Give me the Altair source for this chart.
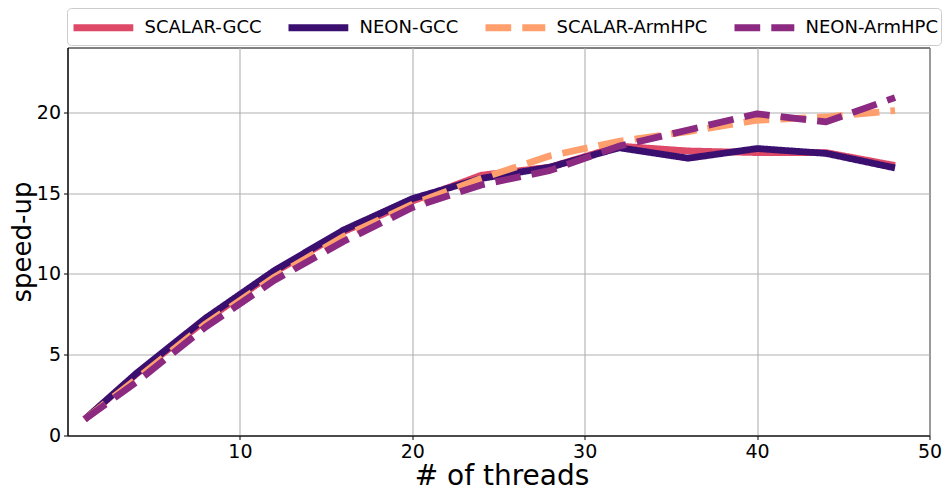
import altair as alt
import pandas as pd

threads = [1, 4, 8, 12, 16, 20, 24, 28, 32, 36, 40, 44, 48]
series_names = ["SCALAR-GCC", "NEON-GCC", "SCALAR-ArmHPC", "NEON-ArmHPC"]
scalar_gcc = [1.0, 3.8, 7.1, 10.1, 12.6, 14.5, 16.1, 16.6, 17.9, 17.6, 17.5, 17.5, 16.7]
neon_gcc = [1.0, 3.85, 7.25, 10.2, 12.7, 14.65, 15.9, 16.6, 17.8, 17.15, 17.75, 17.45, 16.55]
scalar_armhpc = [1.0, 3.5, 6.9, 9.8, 12.3, 14.3, 15.9, 17.3, 18.2, 18.8, 19.5, 19.7, 20.1]
neon_armhpc = [1.0, 3.3, 6.7, 9.6, 12.0, 14.1, 15.5, 16.4, 17.9, 18.9, 19.9, 19.4, 20.9]
x_ticks = [10, 20, 30, 40, 50]
y_ticks = [0, 5, 10, 15, 20]

colors = ["#de4968", "#3b0f70", "#fe9f6d", "#8c2981"]
dashes = [[1, 0], [1, 0], [25.7, 11.1], [25.7, 11.1]]

rows = []
for name, vals in zip(series_names, [scalar_gcc, neon_gcc, scalar_armhpc, neon_armhpc]):
    for t, v in zip(threads, vals):
        rows.append({"threads": t, "speedup": v, "series": name})
df = pd.DataFrame(rows)

FONT = "DejaVu Sans"
W, H = 862, 388

base = alt.Chart(df).mark_line(strokeWidth=6.8, strokeJoin="round").encode(
    x=alt.X("threads:Q",
            scale=alt.Scale(domain=[0, 50], nice=False, zero=False),
            axis=alt.Axis(values=x_ticks, title="# of threads", titleFontSize=28,
                          titleFontWeight="normal", titleBaseline="alphabetic",
                          titleX=434, titleY=49, labelFontSize=19, tickSize=4,
                          labelPadding=3, labelFlush=False)),
    y=alt.Y("speedup:Q",
            scale=alt.Scale(domain=[0, 24], nice=False),
            axis=alt.Axis(values=y_ticks, title="speed-up", titleFontSize=26,
                          titleFontWeight="normal", titleBaseline="alphabetic",
                          titleX=-37, titleY=194, labelFontSize=19, tickSize=4,
                          labelPadding=3)),
    color=alt.Color("series:N",
                    scale=alt.Scale(domain=series_names, range=colors),
                    legend=alt.Legend(title=None, orient="none", direction="horizontal",
                                      columns=4, legendX=-0.5, legendY=-39.5,
                                      symbolType="M-1,0H3.6", symbolSize=676,
                                      symbolStrokeWidth=7, labelFontSize=18,
                                      labelOffset=41.5, columnPadding=12, padding=3,
                                      strokeColor="#cccccc", fillColor="white",
                                      cornerRadius=4, labelFont=FONT)),
    strokeDash=alt.StrokeDash("series:N",
                              scale=alt.Scale(domain=series_names, range=dashes),
                              legend=alt.Legend(title=None, orient="none")),
)

layers = [base.transform_filter(alt.datum.series == s) for s in series_names]

chart = alt.layer(*layers).properties(
    width=W, height=H,
    autosize=alt.AutoSizeParams(type="none"),
    padding={"left": 59.5, "top": 39.5, "right": 12.5, "bottom": 52},
).configure_view(
    stroke="black", strokeWidth=1
).configure_axis(
    grid=True, gridColor="#b0b0b0", gridWidth=1.1, domainColor="black",
    domainWidth=1, tickColor="black", labelColor="black", titleColor="black",
    labelFont=FONT, titleFont=FONT,
).configure_legend(
    labelFont=FONT, labelColor="black"
)

chart.save("out.html", embed_options={"renderer": "svg", "actions": False})
